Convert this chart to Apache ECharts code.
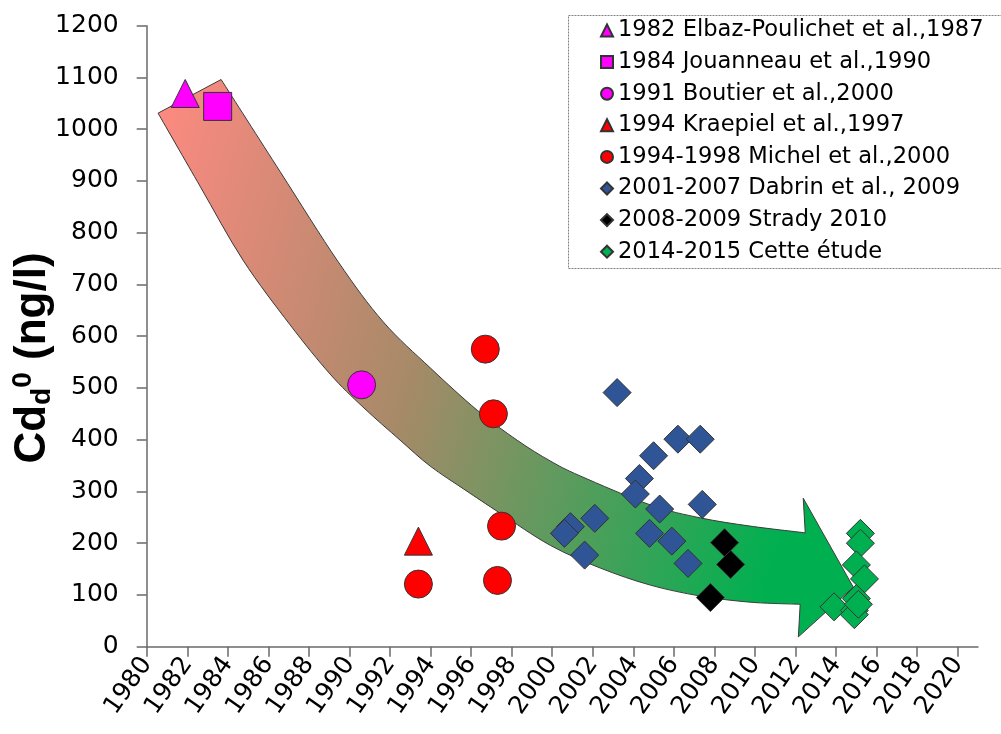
<!DOCTYPE html>
<html>
<head>
<meta charset="utf-8">
<script src="https://cdn.jsdelivr.net/npm/echarts@6/dist/echarts.min.js"></script>
<style>
html,body{margin:0;padding:0;background:#fff;}
#chart{width:1001px;height:734px;}
</style>
</head>
<body>
<div id="chart"></div>
<script>
// ---- data ----
var xTicks = [1980,1982,1984,1986,1988,1990,1992,1994,1996,1998,2000,2002,2004,2006,2008,2010,2012,2014,2016,2018,2020];
var yTicks = [0,100,200,300,400,500,600,700,800,900,1000,1100,1200];

var seriesNames = [
  '1982 Elbaz-Poulichet et al.,1987',
  '1984 Jouanneau et al.,1990',
  '1991 Boutier et al.,2000',
  '1994 Kraepiel et al.,1997',
  '1994-1998 Michel et al.,2000',
  '2001-2007 Dabrin et al., 2009',
  '2008-2009 Strady 2010',
  '2014-2015 Cette étude'
];
var elbaz = [[1981.9, 1069]];
var jouanneau = [[1983.5, 1044]];
var boutier = [[1990.6, 506]];
var kraepiel = [[1993.4, 204]];
var michel = [[1993.4, 121], [1996.7, 575], [1997.1, 450], [1997.5, 233], [1997.3, 128]];
var dabrin = [[2003.2, 491], [2006.2, 401], [2007.3, 401], [2005.0, 369], [2004.3, 325], [2004.1, 295],
              [2005.3, 266], [2007.4, 275], [2002.1, 248], [2000.9, 232], [2000.6, 219], [2001.6, 177],
              [2004.8, 219], [2005.9, 204], [2006.7, 161]];
var strady = [[2008.5, 201], [2008.8, 159], [2007.8, 95]];
var cette = [[2015.2, 219], [2015.2, 200], [2015.0, 158], [2015.4, 131], [2015.0, 93], [2013.9, 77],
             [2014.9, 70], [2014.9, 62], [2015.1, 82]];

// decorative trend arrow outline (year, value)
var arrowUpper = [[1983.67,1096],[1986.58,918],[1989.44,744],[1991.66,628],[1993.98,539],[1996.30,457],
                  [1998.27,399],[1999.90,359],[2001.38,330],[2004.84,274],[2007.30,249],[2009.77,233],[2012.48,220]];
var arrowHead = [[2012.38,287],[2014.85,115],[2012.14,19]];
var arrowLower = [[2012.23,82],[2009.77,86],[2007.30,98],[2004.84,119],[2002.37,152],[1999.90,196],
                  [1997.43,258],[1995.70,303],[1993.98,349],[1992.50,399],[1990.67,463],[1989.04,527],
                  [1987.07,622],[1984.75,747],[1982.63,890],[1980.56,1031]];

// ---- chart ----
var chart = echarts.init(document.getElementById('chart'), null, {renderer: 'canvas'});
var FONT = 'DejaVu Sans';
var EDGE = '#333333';

function mk(name, data, symbol, color, size) {
  return {
    name: name, type: 'scatter', data: data, symbol: symbol, symbolSize: size,
    z: 3,
    itemStyle: {color: color, borderColor: EDGE, borderWidth: 1, opacity: 1},
    emphasis: {disabled: true}
  };
}

function splinePath(pts, moveFirst) {
  var d = (moveFirst ? 'M' : 'L') + pts[0][0] + ' ' + pts[0][1];
  for (var i = 0; i < pts.length - 1; i++) {
    var p0 = pts[Math.max(i - 1, 0)], p1 = pts[i], p2 = pts[i + 1], p3 = pts[Math.min(i + 2, pts.length - 1)];
    var c1x = p1[0] + (p2[0] - p0[0]) / 6, c1y = p1[1] + (p2[1] - p0[1]) / 6;
    var c2x = p2[0] - (p3[0] - p1[0]) / 6, c2y = p2[1] - (p3[1] - p1[1]) / 6;
    d += ' C' + c1x + ' ' + c1y + ' ' + c2x + ' ' + c2y + ' ' + p2[0] + ' ' + p2[1];
  }
  return d;
}

var option = {
  backgroundColor: '#ffffff',
  animation: false,
  grid: {left: 146.7, right: 23, top: 25.7, bottom: 87.3, outerBoundsMode: 'none'},
  xAxis: {
    type: 'value', min: 1980, max: 2021, interval: 2,
    splitLine: {show: false},
    axisLine: {show: true, lineStyle: {color: '#6a6a6a', width: 1.5}},
    axisTick: {show: true, inside: false, length: 10, lineStyle: {color: '#6a6a6a', width: 1.5}, customValues: xTicks},
    axisLabel: {rotate: 55, margin: 13, fontFamily: FONT, fontSize: 25, color: '#000', customValues: xTicks,
                formatter: function (v) { return String(v); }}
  },
  yAxis: {
    type: 'value', min: 0, max: 1200, interval: 100,
    splitLine: {show: false},
    axisLine: {show: true, lineStyle: {color: '#6a6a6a', width: 1.5}},
    axisTick: {show: true, inside: false, length: 10, lineStyle: {color: '#6a6a6a', width: 1.5}},
    axisLabel: {margin: 28, fontFamily: FONT, fontSize: 25, color: '#000',
                formatter: function (v) { return String(v); }}
  },
  legend: {
    orient: 'vertical', left: 600, top: 19, padding: 0, itemGap: 8.6,
    itemWidth: 12, itemHeight: 12,
    textStyle: {fontFamily: FONT, fontSize: 22.6, color: '#000'},
    data: seriesNames,
    selectedMode: false
  },
  graphic: [{
    type: 'rect', left: 566, top: 13, z: 10,
    shape: {width: 434, height: 253},
    style: {fill: 'none', stroke: '#808080', lineWidth: 1, lineDash: [2, 1]}
  }, {
    type: 'text', x: 33, y: 358, rotation: Math.PI / 2, z: 10,
    style: {
      text: '{b|Cd}{sub|d}{sup|0}{b| (ng/l)}',
      align: 'center', verticalAlign: 'middle',
      rich: {
        b: {fontFamily: 'Liberation Sans', fontWeight: 'bold', fontSize: 44, fill: '#000'},
        sub: {fontFamily: 'Liberation Sans', fontWeight: 'bold', fontSize: 28, fill: '#000', verticalAlign: 'bottom', padding: [19, 0, 0, 0]},
        sup: {fontFamily: 'Liberation Sans', fontWeight: 'bold', fontSize: 28, fill: '#000', verticalAlign: 'top', padding: [0, 0, 19, 0]}
      }
    }
  }],
  series: [
    {
      type: 'custom', z: 1, silent: true,
      data: [0],
      renderItem: function (params, api) {
        var up = arrowUpper.map(function (p) { return api.coord(p); });
        var hd = arrowHead.map(function (p) { return api.coord(p); });
        var lo = arrowLower.map(function (p) { return api.coord(p); });
        var d = splinePath(up, true);
        hd.forEach(function (p) { d += ' L' + p[0] + ' ' + p[1]; });
        d += ' ' + splinePath(lo, false) + ' Z';
        return {
          type: 'path',
          shape: {pathData: d},
          style: {
            fill: new echarts.graphic.LinearGradient(0, 0, 1, 0.35, [
              {offset: 0, color: '#FF8A82'},
              {offset: 0.45, color: '#A68A68'},
              {offset: 1, color: '#00B050'}
            ]),
            stroke: '#3a3a3a', lineWidth: 1
          }
        };
      }
    },
    mk(seriesNames[0], elbaz, 'triangle', '#FF00FF', 28),
    mk(seriesNames[1], jouanneau, 'rect', '#FF00FF', 28),
    mk(seriesNames[2], boutier, 'circle', '#FF00FF', 28),
    mk(seriesNames[3], kraepiel, 'triangle', '#FF0000', 28),
    mk(seriesNames[4], michel, 'circle', '#FF0000', 28),
    mk(seriesNames[5], dabrin, 'diamond', '#2F5597', 28),
    mk(seriesNames[6], strady, 'diamond', '#000000', 28),
    mk(seriesNames[7], cette, 'diamond', '#00B050', 28)
  ]
};
chart.setOption(option);
</script>
</body>
</html>
